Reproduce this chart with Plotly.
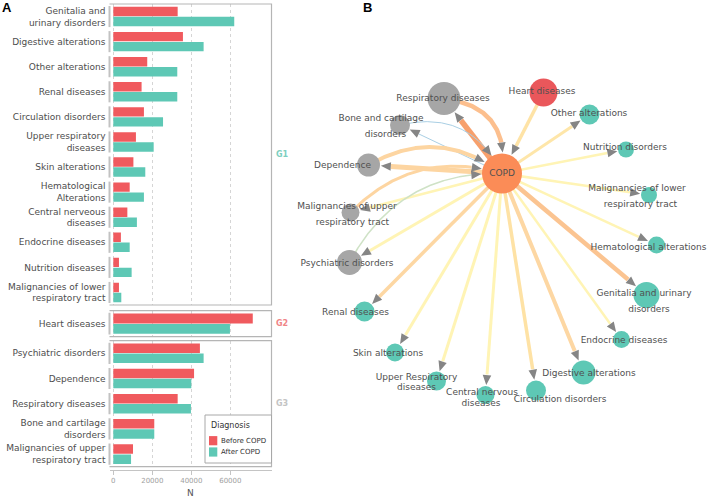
import math
import plotly.graph_objects as go

W, H = 708, 498

# ---------------- Panel A data ----------------
g1_categories = ["Genitalia and<br>urinary disorders", "Digestive alterations", "Other alterations",
                 "Renal diseases", "Circulation disorders", "Upper respiratory<br>diseases",
                 "Skin alterations", "Hematological<br>Alterations", "Central nerveous<br>diseases",
                 "Endocrine diseases", "Nutrition diseases", "Malignancies of lower<br>respiratory tract"]
g1_before = [33000, 35700, 17400, 14500, 15700, 11600, 10300, 8400, 7200, 3900, 2900, 2900]
g1_after = [62000, 46300, 32800, 32800, 25500, 20700, 16400, 15700, 12100, 8400, 9400, 4100]

g2_categories = ["Heart diseases"]
g2_before = [71500]
g2_after = [59800]

g3_categories = ["Psychiatric disorders", "Dependence", "Respiratory diseases",
                 "Bone and cartilage<br>disorders", "Malignancies of upper<br>respiratory tract"]
g3_before = [44400, 41400, 33000, 21000, 10100]
g3_after = [46300, 40000, 39800, 21000, 9100]

group_names = ["G1", "G2", "G3"]
x_ticks = [0, 20000, 40000, 60000]
series_names = ["Before COPD", "After COPD"]

# ---------------- Panel B data ----------------
node_names = ["COPD", "Respiratory diseases", "Heart diseases", "Other alterations", "Nutrition disorders",
              "Malignancies of lower respiratory tract", "Hematological alterations",
              "Genitalia and urinary disorders", "Endocrine diseases", "Digestive alterations",
              "Circulation disorders", "Central nervous diseases", "Upper Respiratory diseases",
              "Skin alterations", "Renal diseases", "Psychiatric disorders",
              "Malignancies of upper respiratory tract", "Dependence", "Bone and cartilage disorders"]
node_group = ["COPD", "G3", "G2", "G1", "G1", "G1", "G1", "G1", "G1", "G1", "G1", "G1", "G1",
              "G1", "G1", "G3", "G3", "G3", "G3"]
# network layout (pixel positions of the vis layout)
node_x = [502, 444, 543.5, 589.5, 626, 649, 656.5, 646.5, 621.5, 583.5, 536, 485.5, 436.5, 395, 364.5,
          349.5, 350.5, 368.5, 400]
node_y = [173.5, 98.5, 92.5, 114.5, 149.5, 195, 245, 295, 339.5, 372.5, 390.5, 395, 381, 352.5, 311.5,
          262.5, 212.5, 165, 125]
node_size = [40, 33, 28, 20, 16, 16, 17, 26, 17, 24, 20, 18, 19, 18, 20, 25, 18, 23, 20]

edge_source = [0, 1, 2, 0, 18, 0, 17, 0, 16, 0, 15, 0, 0, 0, 0, 0, 0, 0, 0, 0, 0, 0, 0]
edge_target = [1, 0, 0, 18, 0, 17, 0, 16, 0, 15, 0, 3, 4, 5, 6, 7, 8, 9, 10, 11, 12, 13, 14]
edge_curve = [0, 0.5, 0, 0, 0.4, 0, 0.33, 0, 0.3, 0, 0.31, 0, 0, 0, 0, 0, 0, 0, 0, 0, 0, 0, 0]
edge_width = [5.5, 4.5, 3.5, 1, 1, 5, 4, 2.5, 3, 3, 1.5, 3, 2.5, 2.5, 2.5, 4.5, 2.5, 4, 3.5, 3, 3, 3, 3.5]
edge_color = ["#F7A06C", "#FCBF8E", "#FEE3A6", "#A9CFE4", "#A9CFE4", "#FDD5A1", "#FDD5A1", "#FFF4B5",
              "#FDD5A1", "#FFF4B5", "#CFE2C6", "#FEE6A9", "#FFF4B5", "#FFF4B5", "#FFF4B5", "#FBC491",
              "#FFF4B5", "#FDD7A3", "#FEE2A5", "#FFF4B5", "#FFF4B5", "#FFF4B5", "#FDD7A3"]

label_text = ["COPD", "Respiratory diseases", "Heart diseases", "Other alterations", "Nutrition disorders",
              "Malignancies of lower", "respiratory tract", "Hematological alterations",
              "Genitalia and urinary", "disorders", "Endocrine diseases", "Digestive alterations",
              "Circulation disorders", "Central nervous", "diseases", "Upper Respiratory", "diseases",
              "Skin alterations", "Renal diseases", "Psychiatric disorders", "Malignancies of upper",
              "respiratory tract", "Dependence", "Bone and cartilage", "disorders"]
label_x = [502, 443, 542, 589, 625, 637, 640.5, 648.5, 644, 649, 624, 589, 560, 482, 481, 416.5, 416.5,
           388, 355.5, 347, 347, 352.5, 342.5, 381, 385.5]
label_y = [173.5, 98.5, 91.5, 114, 148, 188.5, 204.5, 247.5, 294, 310, 340.5, 374, 399.5, 392.5, 404,
           377.7, 388, 353.7, 312.7, 263.3, 207, 222.7, 166, 118.7, 134.7]

# ---------------- styles ----------------
FONT = "DejaVu Sans"
before_color = "#F05A5E"
after_color = "#5EC8B5"
node_colors = {"COPD": "#FB8C57", "G1": "#5EC8B5", "G2": "#EA575B", "G3": "#A6A6A6"}
strip_colors = ["#7DCFC0", "#F08486", "#C4C4C4"]
label_color = "#4D4D4D"


def fx(p):
    return p / W


def fy(p):
    return 1 - p / H


panel_left, panel_right = 109.5, 271.5
panel_px = [(4, 305), (310.7, 336.7), (340.7, 466.7)]
x_range = [-1950, 81100]

fig = go.Figure()
groups = [(g1_categories, g1_before, g1_after), (g2_categories, g2_before, g2_after),
          (g3_categories, g3_before, g3_after)]
layout = {}
shapes = []
annotations = []
for i, (cats, bvals, avals) in enumerate(groups):
    xs = "x" if i == 0 else f"x{i + 1}"
    ys = "y" if i == 0 else f"y{i + 1}"
    for name, vals, col in ((series_names[0], bvals, before_color), (series_names[1], avals, after_color)):
        fig.add_trace(go.Bar(y=cats, x=vals, orientation="h", name=name, marker_color=col,
                             marker_line_width=0, xaxis=xs, yaxis=ys, showlegend=False))
    top, bottom = panel_px[i]
    n = len(cats)
    xa = dict(domain=[fx(panel_left), fx(panel_right)], range=x_range, tickvals=x_ticks,
              tickformat="d", showgrid=True, gridcolor="#D5D5D5", griddash="dot", gridwidth=1,
              zeroline=False, showline=False, showticklabels=False, ticks="")
    if i == 2:
        xa.update(anchor="free", position=fy(470), showline=True, linecolor="#C4C4C4", linewidth=1,
                  showticklabels=True, ticks="outside", ticklen=4, tickcolor="#C4C4C4",
                  tickfont=dict(family=FONT, size=7, color="#A0A0A0"))
    else:
        xa.update(anchor=ys)
    ya = dict(domain=[fy(bottom), fy(top)], type="category", categoryorder="array", categoryarray=cats,
              range=[n - 0.5, -0.5], anchor=xs, showgrid=False, zeroline=False, ticks="",
              showline=False, ticklabelstandoff=3,
              tickfont=dict(family=FONT, size=9, color=label_color))
    layout["xaxis" if i == 0 else f"xaxis{i + 1}"] = xa
    layout["yaxis" if i == 0 else f"yaxis{i + 1}"] = ya
    # panel border: top, right, bottom
    shapes.append(dict(type="path", xref="paper", yref="paper",
                       path=f"M {fx(panel_left)},{fy(top)} L {fx(panel_right)},{fy(top)} "
                            f"L {fx(panel_right)},{fy(bottom)} L {fx(panel_left)},{fy(bottom)}",
                       line=dict(color="#B5B5B5", width=1.2)))
    # segmented left border
    for k in range(n):
        shapes.append(dict(type="line", xref=f"{xs} domain", yref=ys, x0=0, x1=0,
                           y0=k - 0.42, y1=k + 0.42, line=dict(color="#C2C2C2", width=2)))
    annotations.append(dict(text=f"<b>{group_names[i]}</b>", xref="paper", yref="paper",
                            x=fx(282), y=fy((top + bottom) / 2), xanchor="center", yanchor="middle",
                            showarrow=False, font=dict(family=FONT, size=8, color=strip_colors[i])))

# axis title N
annotations.append(dict(text="N", xref="paper", yref="paper", x=fx(190), y=fy(493), showarrow=False,
                        xanchor="center", yanchor="middle", font=dict(family=FONT, size=9, color="#555555")))
# manual legend
shapes.append(dict(type="rect", xref="paper", yref="paper", x0=fx(205), x1=fx(271.5), y0=fy(463), y1=fy(415),
                   line=dict(color="#A8A8A8", width=1), fillcolor="white"))
annotations.append(dict(text="Diagnosis", xref="paper", yref="paper", x=fx(209), y=fy(425.7),
                        xanchor="left", yanchor="middle", showarrow=False,
                        font=dict(family=FONT, size=8, color="#333333")))
for j, (name, col) in enumerate(zip(series_names, (before_color, after_color))):
    cy = 440.7 + j * 11.3
    shapes.append(dict(type="rect", xref="paper", yref="paper", x0=fx(209), x1=fx(217.3),
                       y0=fy(cy + 4.6), y1=fy(cy - 4.6), line=dict(width=0), fillcolor=col))
    annotations.append(dict(text=name, xref="paper", yref="paper", x=fx(219.3), y=fy(cy),
                            xanchor="left", yanchor="middle", showarrow=False,
                            font=dict(family=FONT, size=7, color="#333333")))

# panel letters
annotations.append(dict(text="<b>A</b>", xref="paper", yref="paper", x=fx(7), y=fy(8), showarrow=False,
                        xanchor="center", yanchor="middle",
                        font=dict(family="Liberation Sans", size=13, color="black")))
annotations.append(dict(text="<b>B</b>", xref="paper", yref="paper", x=fx(367.5), y=fy(8), showarrow=False,
                        xanchor="center", yanchor="middle",
                        font=dict(family="Liberation Sans", size=13, color="black")))

# ---------------- Panel B network ----------------
ARROW_LEN, ARROW_HW = 10, 4.3


def bez(p0, c, p2, t):
    return ((1 - t) ** 2 * p0[0] + 2 * (1 - t) * t * c[0] + t * t * p2[0],
            (1 - t) ** 2 * p0[1] + 2 * (1 - t) * t * c[1] + t * t * p2[1])


arrow_x, arrow_y = [], []
for s, t, k, w, col in zip(edge_source, edge_target, edge_curve, edge_width, edge_color):
    p0 = (node_x[s], node_y[s])
    p2 = (node_x[t], node_y[t])
    dx, dy = p2[0] - p0[0], p2[1] - p0[1]
    mid = ((p0[0] + p2[0]) / 2, (p0[1] + p2[1]) / 2)
    c = (mid[0] + k * dy, mid[1] - k * dx)
    pts = [bez(p0, c, p2, q / 400) for q in range(401)]
    rt = node_size[t] / 2 + 1
    tip_i = next(q for q, p in enumerate(pts) if math.hypot(p[0] - p2[0], p[1] - p2[1]) <= rt)
    tip = pts[tip_i]
    base_i = max(q for q in range(tip_i) if math.hypot(pts[q][0] - tip[0], pts[q][1] - tip[1]) >= ARROW_LEN)
    base = pts[base_i]
    line_pts = pts[:base_i + 1]
    fig.add_trace(go.Scatter(x=[p[0] for p in line_pts], y=[p[1] for p in line_pts], mode="lines",
                             line=dict(color=col, width=w), xaxis="x4", yaxis="y4",
                             hoverinfo="skip", showlegend=False))
    ux, uy = tip[0] - base[0], tip[1] - base[1]
    L = math.hypot(ux, uy)
    ux, uy = ux / L, uy / L
    bx, by = tip[0] - ux * ARROW_LEN, tip[1] - uy * ARROW_LEN
    nx, ny = -uy, ux
    arrow_x += [bx + nx * ARROW_HW, tip[0], bx - nx * ARROW_HW, bx + nx * ARROW_HW, None]
    arrow_y += [by + ny * ARROW_HW, tip[1], by - ny * ARROW_HW, by + ny * ARROW_HW, None]

fig.add_trace(go.Scatter(x=arrow_x, y=arrow_y, mode="lines", fill="toself", fillcolor="#858585",
                         line=dict(width=0, color="#858585"), xaxis="x4", yaxis="y4",
                         hoverinfo="skip", showlegend=False))
fig.add_trace(go.Scatter(x=node_x, y=node_y, mode="markers", text=node_names, hoverinfo="text",
                         marker=dict(size=node_size, color=[node_colors[g] for g in node_group],
                                     line=dict(width=0), opacity=1),
                         xaxis="x4", yaxis="y4", showlegend=False))
fig.add_trace(go.Scatter(x=label_x, y=label_y, mode="text", text=label_text, textposition="middle center",
                         textfont=dict(family=FONT, size=9, color="#505050"), hoverinfo="skip",
                         cliponaxis=False, xaxis="x4", yaxis="y4", showlegend=False))

layout["xaxis4"] = dict(domain=[0, 1], range=[0, W], visible=False, anchor="y4", fixedrange=True)
layout["yaxis4"] = dict(domain=[0, 1], range=[H, 0], visible=False, anchor="x4", fixedrange=True)

fig.update_layout(width=W, height=H, margin=dict(l=0, r=0, t=0, b=0), autosize=False,
                  paper_bgcolor="white", plot_bgcolor="rgba(0,0,0,0)",
                  barmode="group", bargap=0.2, bargroupgap=0.06,
                  shapes=shapes, annotations=annotations, showlegend=False,
                  font=dict(family=FONT), **layout)
fig.write_html("out.html", config={"displayModeBar": False},
               post_script="document.body.style.margin='0';document.body.style.overflow='hidden';")
